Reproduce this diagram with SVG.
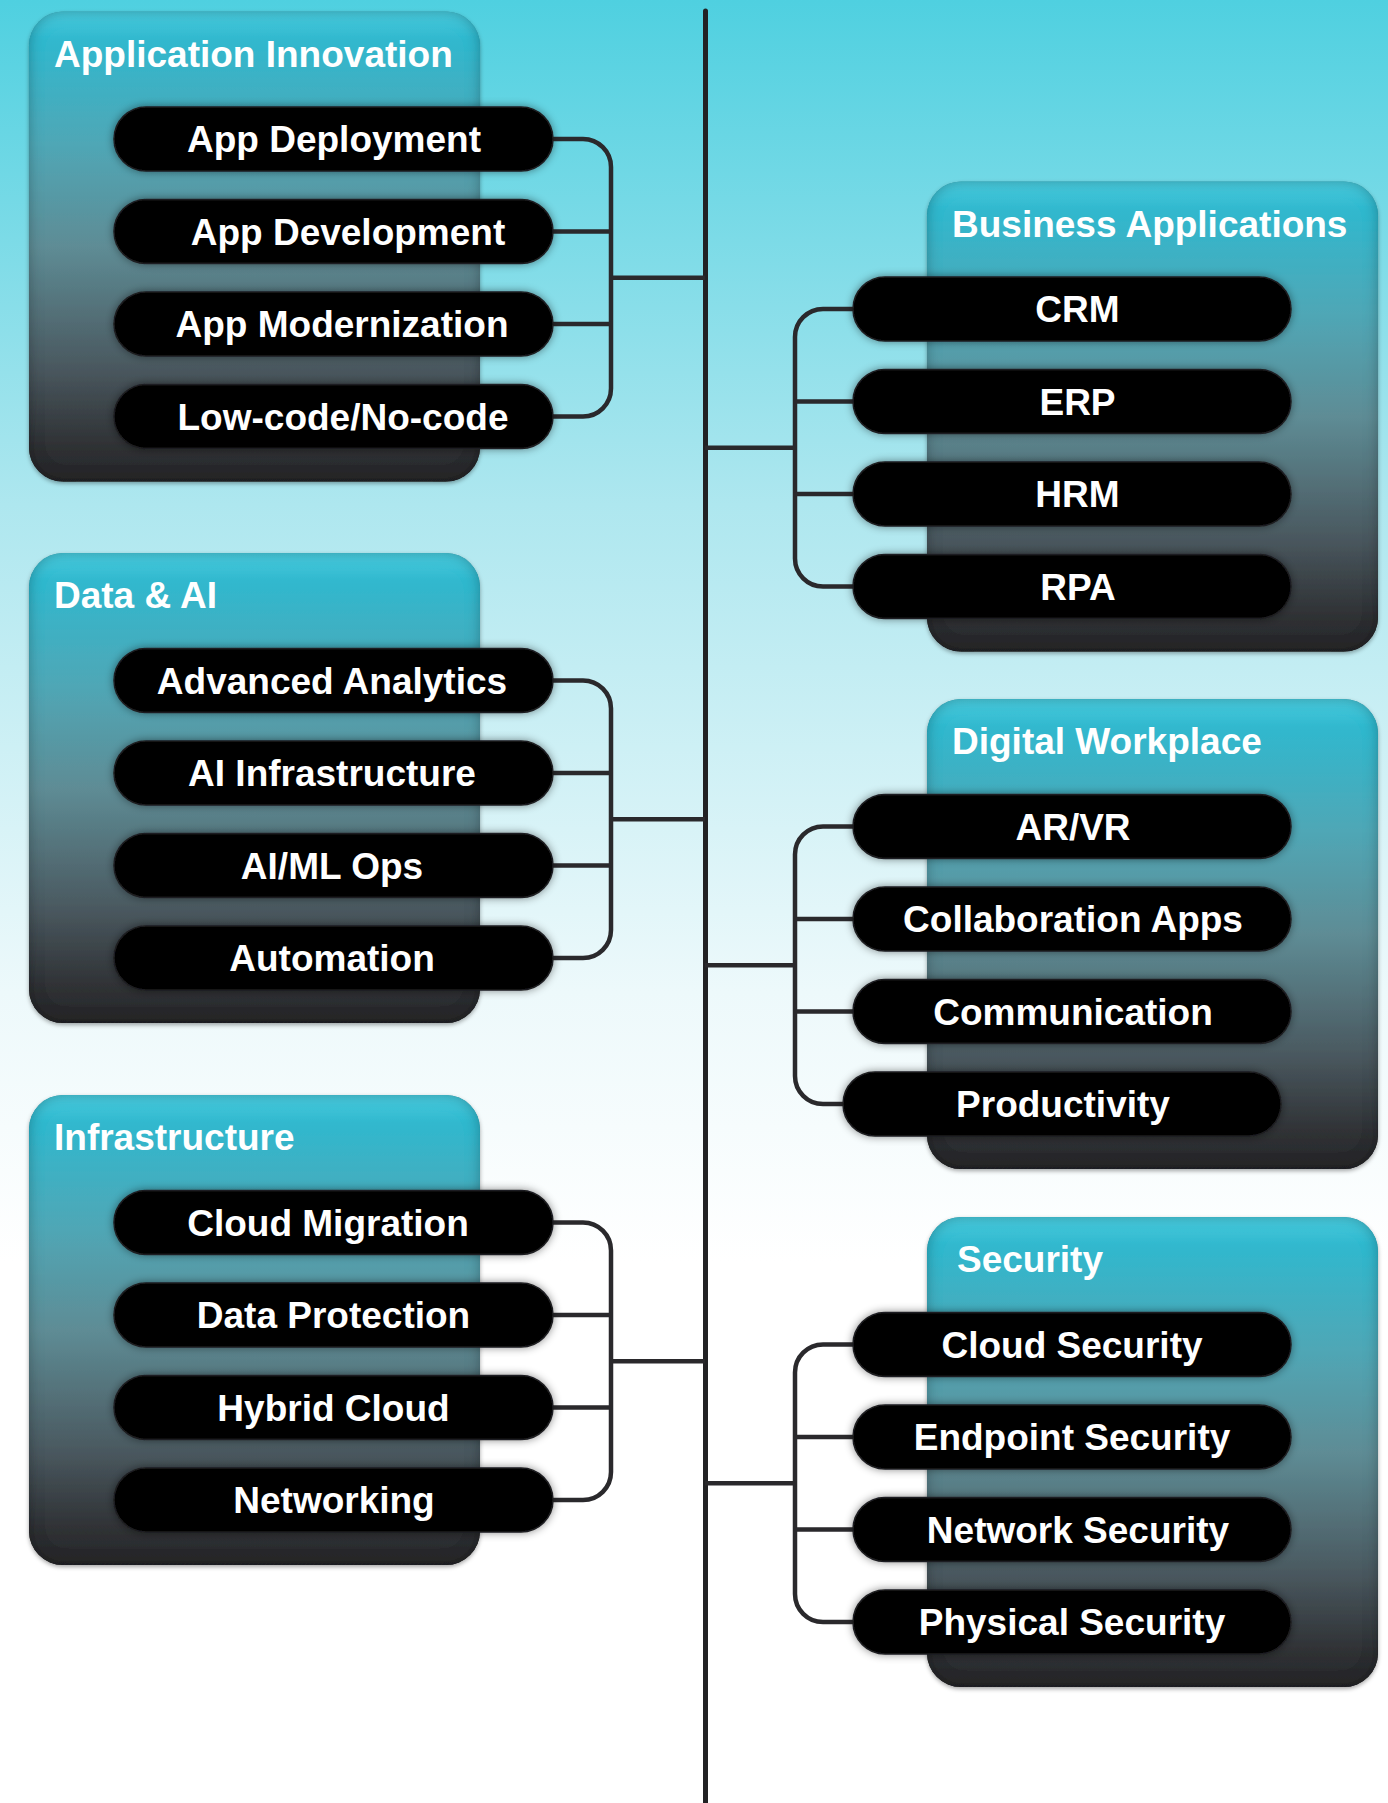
<svg xmlns="http://www.w3.org/2000/svg" width="1388" height="1803" viewBox="0 0 1388 1803">
<defs>
  <linearGradient id="bg" x1="0" y1="0" x2="0" y2="1">
    <stop offset="0" stop-color="#4fd0e0"/>
    <stop offset="0.28" stop-color="#aee7ef"/>
    <stop offset="0.55" stop-color="#edf9fb"/>
    <stop offset="0.7" stop-color="#ffffff"/>
    <stop offset="1" stop-color="#ffffff"/>
  </linearGradient>
  <linearGradient id="boxg" x1="0" y1="0" x2="0" y2="1">
    <stop offset="0" stop-color="#4acbde"/>
    <stop offset="0.06" stop-color="#30b8ce"/>
    <stop offset="0.28" stop-color="#4fa7b6"/>
    <stop offset="0.5" stop-color="#5e8c95"/>
    <stop offset="0.75" stop-color="#4b5a61"/>
    <stop offset="0.93" stop-color="#2e3033"/>
    <stop offset="1" stop-color="#28282a"/>
  </linearGradient>
  <filter id="boxfx" x="-10%" y="-10%" width="120%" height="120%">
    <feGaussianBlur in="SourceAlpha" stdDeviation="7" result="blur"/>
    <feComposite in="SourceAlpha" in2="blur" operator="arithmetic" k2="1" k3="-1" result="edge"/>
    <feFlood flood-color="#000" flood-opacity="0.55"/>
    <feComposite in2="edge" operator="in" result="inner"/>
    <feDropShadow in="SourceAlpha" dx="0" dy="2" stdDeviation="2" flood-color="#000" flood-opacity="0.35" result="drop"/>
    <feMerge><feMergeNode in="drop"/><feMergeNode in="SourceGraphic"/><feMergeNode in="inner"/></feMerge>
  </filter>
  <filter id="pillfx" x="-10%" y="-30%" width="120%" height="160%">
    <feDropShadow dx="0" dy="0" stdDeviation="4" flood-color="#000" flood-opacity="0.45"/>
  </filter>
</defs>
<style>
  .box { fill: url(#boxg); filter: url(#boxfx); }
  .title { font-family: "Liberation Sans", Arial, sans-serif; font-weight: bold; font-size: 37px; fill: #ffffff; }
  .pill { fill: #000000; stroke: #1e1e20; stroke-width: 1.5; filter: url(#pillfx); }
  .pt { font-family: "Liberation Sans", Arial, sans-serif; font-weight: bold; font-size: 37px; fill: #ffffff; text-anchor: middle; }
  .con { fill: none; stroke: #2a292c; stroke-width: 4.5; stroke-linecap: butt; }
  .trunk { fill: none; stroke: #222224; stroke-width: 5; stroke-linecap: round; }
</style>
<rect x="0" y="0" width="1388" height="1803" fill="url(#bg)"/>

<g id="connectors">
  <line class="trunk" x1="705.5" y1="11" x2="705.5" y2="1810"/>
  <!-- Application Innovation -->
  <path class="con" d="M550,139 H583 A28,28 0 0 1 611,167 V388.5 A28,28 0 0 1 583,416.5 H550"/>
  <path class="con" d="M550,231.5 H611 M550,324 H611 M611,277.8 H705"/>
  <!-- Data & AI -->
  <path class="con" d="M550,680.5 H583 A28,28 0 0 1 611,708.5 V930 A28,28 0 0 1 583,958 H550"/>
  <path class="con" d="M550,773 H611 M550,865.5 H611 M611,819.3 H705"/>
  <!-- Infrastructure -->
  <path class="con" d="M550,1222.5 H583 A28,28 0 0 1 611,1250.5 V1472 A28,28 0 0 1 583,1500 H550"/>
  <path class="con" d="M550,1315 H611 M550,1407.5 H611 M611,1361.3 H705"/>
  <!-- Business Applications -->
  <path class="con" d="M856,309 H823 A28,28 0 0 0 795,337 V558.5 A28,28 0 0 0 823,586.5 H856"/>
  <path class="con" d="M856,401.5 H795 M856,494 H795 M705,447.8 H795"/>
  <!-- Digital Workplace -->
  <path class="con" d="M856,826.5 H823 A28,28 0 0 0 795,854.5 V1076 A28,28 0 0 0 823,1104 H846"/>
  <path class="con" d="M856,919 H795 M856,1011.5 H795 M705,965.3 H795"/>
  <!-- Security -->
  <path class="con" d="M856,1344.5 H823 A28,28 0 0 0 795,1372.5 V1594 A28,28 0 0 0 823,1622 H856"/>
  <path class="con" d="M856,1437 H795 M856,1529.5 H795 M705,1483.3 H795"/>
</g>

<g id="application-innovation">
  <rect class="box" x="29" y="11.5" width="451" height="470" rx="34"/>
  <text class="title" x="54" y="66.5">Application Innovation</text>
  <g id="app-deployment"><rect class="pill" x="114" y="107" width="439" height="64" rx="32"/><text class="pt" x="334" y="152">App Deployment</text></g>
  <g id="app-development"><rect class="pill" x="114" y="199.5" width="439" height="64" rx="32"/><text class="pt" x="348" y="244.5">App Development</text></g>
  <g id="app-modernization"><rect class="pill" x="114" y="292" width="439" height="64" rx="32"/><text class="pt" x="342" y="337">App Modernization</text></g>
  <g id="low-code"><rect class="pill" x="114" y="384.5" width="439" height="64" rx="32"/><text class="pt" x="343" y="429.5">Low-code/No-code</text></g>
</g>

<g id="data-ai">
  <rect class="box" x="29" y="553" width="451" height="470" rx="34"/>
  <text class="title" x="54" y="608">Data &amp; AI</text>
  <g id="advanced-analytics"><rect class="pill" x="114" y="648.5" width="439" height="64" rx="32"/><text class="pt" x="332" y="693.5">Advanced Analytics</text></g>
  <g id="ai-infrastructure"><rect class="pill" x="114" y="741" width="439" height="64" rx="32"/><text class="pt" x="332" y="786">AI Infrastructure</text></g>
  <g id="ai-ml-ops"><rect class="pill" x="114" y="833.5" width="439" height="64" rx="32"/><text class="pt" x="332" y="878.5">AI/ML Ops</text></g>
  <g id="automation"><rect class="pill" x="114" y="926" width="439" height="64" rx="32"/><text class="pt" x="332" y="971">Automation</text></g>
</g>

<g id="infrastructure">
  <rect class="box" x="29" y="1095" width="451" height="470" rx="34"/>
  <text class="title" x="54" y="1150">Infrastructure</text>
  <g id="cloud-migration"><rect class="pill" x="114" y="1190.5" width="439" height="64" rx="32"/><text class="pt" x="328" y="1235.5">Cloud Migration</text></g>
  <g id="data-protection"><rect class="pill" x="114" y="1283" width="439" height="64" rx="32"/><text class="pt" x="333.5" y="1328">Data Protection</text></g>
  <g id="hybrid-cloud"><rect class="pill" x="114" y="1375.5" width="439" height="64" rx="32"/><text class="pt" x="333.5" y="1420.5">Hybrid Cloud</text></g>
  <g id="networking"><rect class="pill" x="114" y="1468" width="439" height="64" rx="32"/><text class="pt" x="334" y="1513">Networking</text></g>
</g>

<g id="business-applications">
  <rect class="box" x="927" y="181.5" width="451" height="470" rx="34"/>
  <text class="title" x="952" y="236.5">Business Applications</text>
  <g id="crm"><rect class="pill" x="853" y="277" width="438" height="64" rx="32"/><text class="pt" x="1077.5" y="322">CRM</text></g>
  <g id="erp"><rect class="pill" x="853" y="369.5" width="438" height="64" rx="32"/><text class="pt" x="1077.5" y="414.5">ERP</text></g>
  <g id="hrm"><rect class="pill" x="853" y="462" width="438" height="64" rx="32"/><text class="pt" x="1077.5" y="507">HRM</text></g>
  <g id="rpa"><rect class="pill" x="853" y="554.5" width="438" height="64" rx="32"/><text class="pt" x="1078" y="599.5">RPA</text></g>
</g>

<g id="digital-workplace">
  <rect class="box" x="927" y="699" width="451" height="470" rx="34"/>
  <text class="title" x="952" y="754">Digital Workplace</text>
  <g id="ar-vr"><rect class="pill" x="853" y="794.5" width="438" height="64" rx="32"/><text class="pt" x="1073" y="839.5">AR/VR</text></g>
  <g id="collaboration-apps"><rect class="pill" x="853" y="887" width="438" height="64" rx="32"/><text class="pt" x="1073" y="932">Collaboration Apps</text></g>
  <g id="communication"><rect class="pill" x="853" y="979.5" width="438" height="64" rx="32"/><text class="pt" x="1073" y="1024.5">Communication</text></g>
  <g id="productivity"><rect class="pill" x="843" y="1072" width="438" height="64" rx="32"/><text class="pt" x="1063" y="1117">Productivity</text></g>
</g>

<g id="security">
  <rect class="box" x="927" y="1217" width="451" height="470" rx="34"/>
  <text class="title" x="957" y="1272">Security</text>
  <g id="cloud-security"><rect class="pill" x="853" y="1312.5" width="438" height="64" rx="32"/><text class="pt" x="1072" y="1357.5">Cloud Security</text></g>
  <g id="endpoint-security"><rect class="pill" x="853" y="1405" width="438" height="64" rx="32"/><text class="pt" x="1072" y="1450">Endpoint Security</text></g>
  <g id="network-security"><rect class="pill" x="853" y="1497.5" width="438" height="64" rx="32"/><text class="pt" x="1078" y="1542.5">Network Security</text></g>
  <g id="physical-security"><rect class="pill" x="853" y="1590" width="438" height="64" rx="32"/><text class="pt" x="1072" y="1635">Physical Security</text></g>
</g>
</svg>
